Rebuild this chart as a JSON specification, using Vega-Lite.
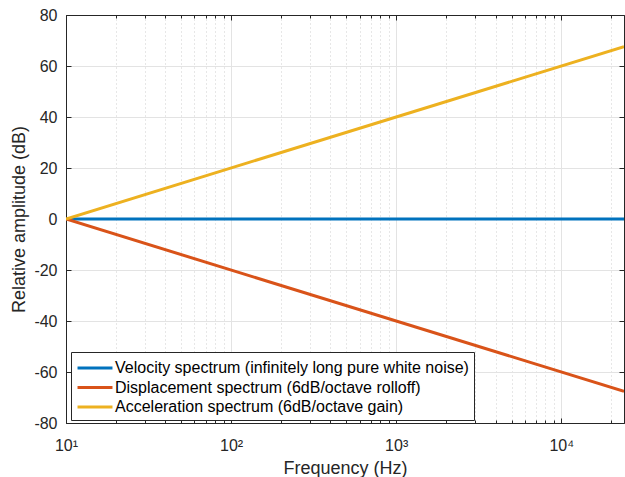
{
  "$schema": "https://vega.github.io/schema/vega-lite/v6.json",
  "width": 558,
  "height": 408,
  "autosize": {"type": "none"},
  "padding": {"left": 66, "top": 15, "right": 1, "bottom": 54},
  "background": "white",
  "config": {
    "font": "Liberation Sans",
    "view": {"stroke": "#262626", "strokeWidth": 1},
    "axis": {"labelColor": "#262626", "titleColor": "#262626", "domainColor": "#262626", "tickColor": "#262626", "labelFontSize": 16, "titleFontSize": 18, "titleFontWeight": "normal"}
  },
  "data": {"values": [
    {"f": 10, "db": 0, "s": "Velocity spectrum (infinitely long pure white noise)"},
    {"f": 24000, "db": 0, "s": "Velocity spectrum (infinitely long pure white noise)"},
    {"f": 10, "db": 0, "s": "Displacement spectrum (6dB/octave rolloff)"},
    {"f": 24000, "db": -67.6, "s": "Displacement spectrum (6dB/octave rolloff)"},
    {"f": 10, "db": 0, "s": "Acceleration spectrum (6dB/octave gain)"},
    {"f": 24000, "db": 67.6, "s": "Acceleration spectrum (6dB/octave gain)"}
  ]},
  "layer": [
    {
      "mark": {"type": "line", "strokeWidth": 3, "clip": true},
      "encoding": {
        "x": {"field": "f", "type": "quantitative",
          "scale": {"type": "log", "domain": [10, 24000], "nice": false},
          "axis": {
            "title": "Frequency (Hz)", "titlePadding": 4,
            "values": [10,20,30,40,50,60,70,80,90,100,200,300,400,500,600,700,800,900,1000,2000,3000,4000,5000,6000,7000,8000,9000,10000,20000],
            "labelExpr": "datum.value == 10 ? '10¹' : datum.value == 100 ? '10²' : datum.value == 1000 ? '10³' : datum.value == 10000 ? '10⁴' : ''",
            "labelPadding": 19, "labelFlush": false, "labelOverlap": false,
            "tickSize": {"condition": {"test": "datum.value == 10 || datum.value == 100 || datum.value == 1000 || datum.value == 10000", "value": -5}, "value": -3},
            "grid": true,
            "gridColor": {"condition": {"test": "datum.value == 10 || datum.value == 100 || datum.value == 1000 || datum.value == 10000", "value": "#e3e3e3"}, "value": "#cfcfcf"},
            "gridDash": {"condition": {"test": "datum.value == 10 || datum.value == 100 || datum.value == 1000 || datum.value == 10000", "value": []}, "value": [1, 3]}
          }
        },
        "y": {"field": "db", "type": "quantitative",
          "scale": {"domain": [-80, 80], "nice": false},
          "axis": {
            "title": "Relative amplitude (dB)", "titlePadding": 5,
            "values": [-80,-60,-40,-20,0,20,40,60,80],
            "labelExpr": "'' + datum.value",
            "tickSize": -5, "labelPadding": 14,
            "grid": true, "gridColor": "#e3e3e3"
          }
        },
        "color": {"field": "s", "type": "nominal",
          "scale": {"domain": ["Velocity spectrum (infinitely long pure white noise)", "Displacement spectrum (6dB/octave rolloff)", "Acceleration spectrum (6dB/octave gain)"], "range": ["#0072BD", "#D95319", "#EDB120"]},
          "legend": {
            "title": null, "orient": "none", "legendX": 5, "legendY": 337,
            "fillColor": "white", "strokeColor": "#262626", "padding": 5,
            "labelFontSize": 16, "labelColor": "#000000", "labelLimit": 600,
            "symbolType": "M-1.84,0H1.84", "symbolStrokeWidth": 3, "symbolSize": 361, "symbolOffset": 8,
            "rowPadding": 0.5, "labelOffset": 9
          }
        }
      }
    },
    {
      "mark": {"type": "line", "opacity": 0},
      "encoding": {
        "x": {"field": "f", "type": "quantitative",
          "axis": {"orient": "top", "title": null, "labels": false, "grid": false, "domain": true,
            "values": [10,20,30,40,50,60,70,80,90,100,200,300,400,500,600,700,800,900,1000,2000,3000,4000,5000,6000,7000,8000,9000,10000,20000],
            "tickSize": {"condition": {"test": "datum.value == 10 || datum.value == 100 || datum.value == 1000 || datum.value == 10000", "value": -5}, "value": -3}}},
        "y": {"field": "db", "type": "quantitative",
          "axis": {"orient": "right", "title": null, "labels": false, "grid": false,
            "values": [-80,-60,-40,-20,0,20,40,60,80], "tickSize": -5}},
        "detail": {"field": "s"}
      }
    }
  ],
  "resolve": {"axis": {"x": "independent", "y": "independent"}}
}
